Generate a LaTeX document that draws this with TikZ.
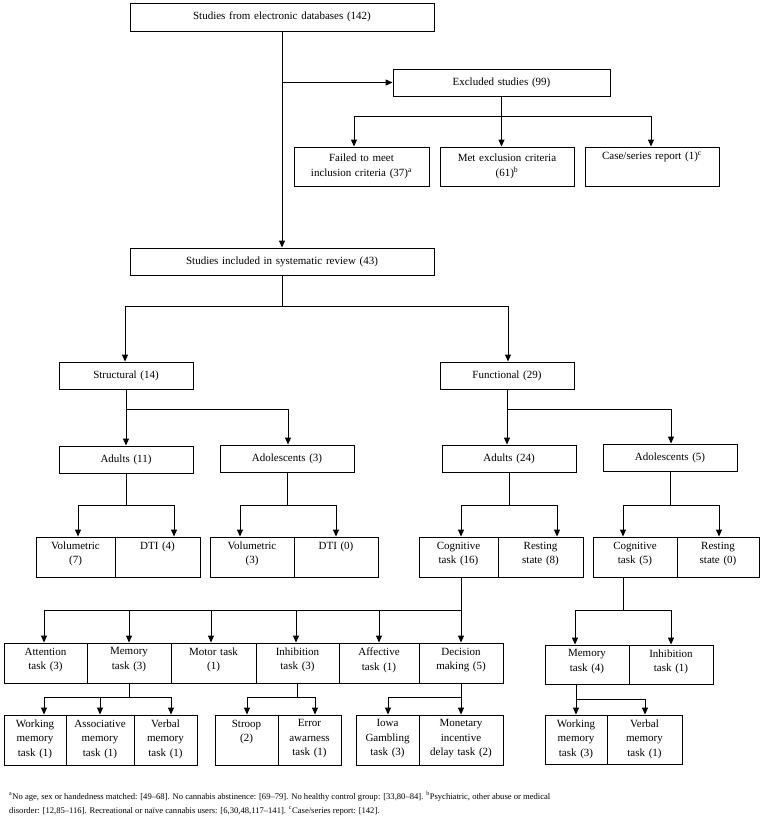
\documentclass[tikz,border=0pt]{standalone}
\usepackage{fontspec}
\setmainfont{Liberation Serif}
\usetikzlibrary{arrows.meta}
\begin{document}
\begin{tikzpicture}[x=1pt,y=-1pt,
  box/.style={draw,line width=0.9pt,inner sep=0pt,rectangle},
  txt/.style={font=\fontsize{11}{14.5}\selectfont,align=center,inner sep=0pt},
  ln/.style={line width=1pt},
  arr/.style={line width=1pt,-{Triangle[length=7pt,width=6pt]}}]
\useasboundingbox (0,0) rectangle (760,820);
% centered box: name, x1,y1,x2,y2, text
\newcommand\bx[6]{\node[box,minimum width={(#4-#2)*1pt},minimum height={(#5-#3)*1pt}] (#1) at ({(#2+#4)/2},{(#3+#5)/2}) {};
  \node[txt,text width={(#4-#2-4)*1pt}] at (#1.center) {#6};}
% top-aligned box
\newcommand\bt[6]{\node[box,minimum width={(#4-#2)*1pt},minimum height={(#5-#3)*1pt}] (#1) at ({(#2+#4)/2},{(#3+#5)/2}) {};
  \node[txt,anchor=north,text width={(#4-#2-4)*1pt}] at ([yshift=-5pt]#1.north) {#6};}

\bx{top}{130}{3}{434}{31}{Studies from electronic databases (142)}
\bx{exc}{393}{69}{610}{96}{Excluded studies (99)}
\bx{fail}{294}{147}{429}{186}{Failed to meet\\inclusion criteria (37)\textsuperscript{a}}
\bx{met}{440}{147}{574}{186}{Met exclusion criteria\\(61)\textsuperscript{b}}
\bt{case}{585}{147}{719}{186}{Case/series report (1)\textsuperscript{c}}
\bx{inc}{130}{248}{434}{275}{Studies included in systematic review (43)}

\draw[arr] (top.south) -- (inc.north);
\draw[arr] (top.south|-0,82.5) -- (exc.west);
\draw[ln] (exc.south) -- (exc.south|-0,116);
\draw[arr] (354,116) -- (fail.north-|354,0);
\draw[arr] (exc.south|-0,116) -- (met.north-|exc.south);
\draw[arr] (651,116) -- (case.north-|651,0);
\draw[ln] (354,116) -- (651,116);

\bx{str}{59}{362}{193}{389}{Structural (14)}
\bx{fun}{440}{362}{574}{389}{Functional (29)}
\draw[ln] (inc.south) -- (inc.south|-0,306);
\draw[ln] (125,306) -- (508,306);
\draw[arr] (125,306) -- (str.north-|125,0);
\draw[arr] (508,306) -- (fun.north-|508,0);

\bx{sad}{59}{446}{193}{473}{Adults (11)}
\bx{sado}{220}{445}{354}{472}{Adolescents (3)}
\bx{fad}{442}{445}{576}{472}{Adults (24)}
\bx{fado}{603}{444}{737}{471}{Adolescents (5)}
\draw[ln] (str.south) -- (str.south|-0,409) -- (288,409);
\draw[arr] (str.south|-0,409) -- (sad.north-|str.south);
\draw[arr] (288,409) -- (sado.north-|288,0);
\draw[ln] (fun.south) -- (fun.south|-0,409) -- (671,409);
\draw[arr] (fun.south|-0,409) -- (fad.north-|fun.south);
\draw[arr] (671,409) -- (fado.north-|671,0);

\bt{vol1}{36}{537}{115}{577}{Volumetric\\(7)}
\bt{dti1}{115}{537}{200}{577}{DTI (4)}
\bt{vol2}{210}{537}{294}{577}{Volumetric\\(3)}
\bt{dti2}{294}{537}{378}{577}{DTI (0)}
\bt{cog1}{419}{537}{498}{577}{Cognitive\\task (16)}
\bt{rest1}{498}{537}{583}{577}{Resting\\state (8)}
\bt{cog2}{593}{537}{677}{577}{Cognitive\\task (5)}
\bt{rest2}{677}{537}{759}{577}{Resting\\state (0)}

\draw[ln] (sad.south) -- (sad.south|-0,505); \draw[ln] (78,505) -- (174,505);
\draw[arr] (78,505) -- (vol1.north-|78,0); \draw[arr] (174,505) -- (dti1.north-|174,0);
\draw[ln] (sado.south) -- (sado.south|-0,505); \draw[ln] (240,505) -- (336,505);
\draw[arr] (240,505) -- (vol2.north-|240,0); \draw[arr] (336,505) -- (dti2.north-|336,0);
\draw[ln] (fad.south) -- (fad.south|-0,505); \draw[ln] (461,505) -- (557,505);
\draw[arr] (461,505) -- (cog1.north-|461,0); \draw[arr] (557,505) -- (rest1.north-|557,0);
\draw[ln] (fado.south) -- (fado.south|-0,505); \draw[ln] (623,505) -- (719,505);
\draw[arr] (623,505) -- (cog2.north-|623,0); \draw[arr] (719,505) -- (rest2.north-|719,0);

\bt{att}{4}{643}{87}{683}{Attention\\task (3)}
\bt{mem}{87}{643}{171}{683}{Memory\\task (3)}
\bt{mot}{171}{643}{256}{683}{Motor task\\(1)}
\bt{inh}{256}{643}{339}{683}{Inhibition\\task (3)}
\bt{aff}{339}{643}{419}{683}{Affective\\task (1)}
\bt{dec}{419}{643}{503}{683}{Decision\\making (5)}
\bt{mem2}{545}{645}{629}{684}{Memory\\task (4)}
\bt{inh2}{629}{645}{713}{684}{Inhibition\\task (1)}

\draw[ln] (461,577) -- (461,610) -- (44,610);
\foreach \xx/\nn in {44/att,129/mem,211/mot,296/inh,379/aff,461/dec}
  \draw[arr] (\xx,610) -- (\nn.north-|\xx,0);
\draw[ln] (623,577) -- (623,610); \draw[ln] (575,610) -- (671,610);
\draw[arr] (575,610) -- (mem2.north-|575,0); \draw[arr] (671,610) -- (inh2.north-|671,0);

\bt{wm}{4}{715}{66}{765}{Working\\memory\\task (1)}
\bt{am}{66}{715}{134}{765}{Associative\\memory\\task (1)}
\bt{vm}{134}{715}{197}{765}{Verbal\\memory\\task (1)}
\bt{stroop}{215}{715}{278}{765}{Stroop\\(2)}
\bt{err}{278}{715}{341}{765}{Error\\awarness\\task (1)}
\bt{iowa}{356}{715}{419}{765}{Iowa\\Gambling\\task (3)}
\bt{mon}{419}{715}{503}{765}{Monetary\\incentive\\delay task (2)}
\bt{wm2}{545}{715}{607}{764}{Working\\memory\\task (3)}
\bt{vm2}{607}{715}{682}{764}{Verbal\\memory\\task (1)}

\draw[ln] (mem.south|-0,683) -- (mem.south|-0,697) ; \draw[ln] (44,697) -- (171,697);
\draw[arr] (44,697) -- (wm.north-|44,0); \draw[arr] (100,697) -- (am.north-|100,0); \draw[arr] (171,697) -- (vm.north-|171,0);
\draw[ln] (inh.south|-0,683) -- (inh.south|-0,697); \draw[ln] (247,697) -- (315,697);
\draw[arr] (247,697) -- (stroop.north-|247,0); \draw[arr] (315,697) -- (err.north-|315,0);
\draw[ln] (461,683) -- (461,697) -- (388,697);
\draw[arr] (388,697) -- (iowa.north-|388,0); \draw[arr] (461,697) -- (mon.north-|461,0);
\draw[ln] (576,684) -- (576,699) -- (645,699);
\draw[arr] (576,699) -- (wm2.north-|576,0); \draw[arr] (645,699) -- (vm2.north-|645,0);

\node[anchor=north west,align=left,inner sep=0pt,font=\fontsize{8.6}{14}\selectfont] (fn) at (9,791)
{\textsuperscript{a}No age, sex or handedness matched: [49--68]. No cannabis abstinence: [69--79]. No healthy control group: [33,80--84]. \textsuperscript{b}Psychiatric, other abuse or medical\\disorder: [12,85--116]. Recreational or naïve cannabis users: [6,30,48,117--141]. \textsuperscript{c}Case/series report: [142].};
\end{tikzpicture}
\end{document}
